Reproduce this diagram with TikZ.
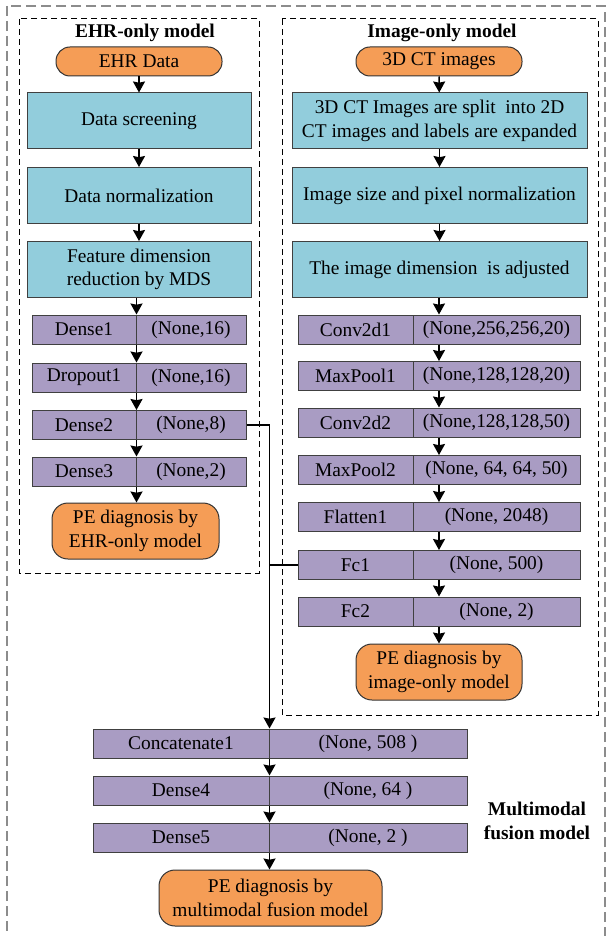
\documentclass[tikz,border=0pt]{standalone}
\usepackage{fontspec}
\setmainfont{Liberation Serif}
\usetikzlibrary{arrows.meta}

\definecolor{pillorange}{HTML}{F59D56}
\definecolor{stepblue}{HTML}{92CDDC}
\definecolor{layerpurple}{HTML}{A99CC3}

\begin{document}
\begin{tikzpicture}[x=0.5pt,y=-0.5pt,
    every node/.style={font=\fontsize{9.7}{11.7}\selectfont, inner sep=0pt},
    title/.style={font=\fontsize{9.7}{11.7}\selectfont\bfseries, align=center},
    pill/.style={draw=black!80, line width=0.5pt, fill=pillorange, rounded corners=7pt, minimum width=83pt, minimum height=14.5pt},
    result/.style={draw=black!80, line width=0.5pt, fill=pillorange, rounded corners=8pt, minimum height=28pt, align=center},
    stepbox/.style={draw=black!75, line width=0.5pt, fill=stepblue, minimum height=28pt, align=center},
    layer/.style={draw=black!75, line width=0.5pt, fill=layerpurple, minimum height=14.5pt},
    arr/.style={-{Stealth[length=5.5pt,width=6pt,inset=0.6pt]}, line width=0.7pt},
    link/.style={line width=0.7pt},
    groupbox/.style={draw=black, line width=0.5pt, dash pattern=on 3pt off 2pt},
    outerbox/.style={draw=black!45, line width=0.7pt, dash pattern=on 5pt off 2.5pt}]

    \useasboundingbox (0,0) rectangle (606,936);
    \begin{scope}
        \clip (0,0) rectangle (606,936);
        \draw[outerbox] (7,6) rectangle (605,960);
    \end{scope}
    \draw[groupbox] (19,19) rectangle (259,573);
    \draw[groupbox] (282,19) rectangle (598,715);

    \node[title] (ehrtitle) at (145,33) {EHR-only model};
    \node[pill] (ehrdata) at (139,61.5) {EHR Data};
    \node[stepbox, minimum width=112pt] (screen) at (139,121) {Data screening};
    \node[stepbox, minimum width=112pt] (norm) at (139,195.5) {Data normalization};
    \node[stepbox, minimum width=112pt] (mds) at (139,269.5) {Feature dimension\\reduction by MDS};

    \node[layer, minimum width=52pt] (dense1) at (84,329.5) {Dense1};
    \node[layer, minimum width=55pt] (dense1o) at (191,329.5) {(None,16)};
    \node[layer, minimum width=52pt] (drop1) at (84,377.5) {Dropout1};
    \node[layer, minimum width=55pt] (drop1o) at (191,377.5) {(None,16)};
    \node[layer, minimum width=52pt] (dense2) at (84,425) {Dense2};
    \node[layer, minimum width=55pt] (dense2o) at (191,425) {(None,8)};
    \node[layer, minimum width=52pt] (dense3) at (84,471.5) {Dense3};
    \node[layer, minimum width=55pt] (dense3o) at (191,471.5) {(None,2)};
    \node[result, minimum width=83.5pt] (ehrpe) at (135.5,531) {PE diagnosis by\\EHR-only model};

    \node[title] (imgtitle) at (442,33) {Image-only model};
    \node[pill] (ctdata) at (439,61.5) {3D CT images};
    \node[stepbox, minimum width=147.5pt] (split) at (439.5,121) {3D CT Images are split~ into 2D\\CT images and labels are expanded};
    \node[stepbox, minimum width=147.5pt] (pixnorm) at (439.5,195.5) {Image size and pixel normalization};
    \node[stepbox, minimum width=147.5pt] (adjust) at (439.5,269.5) {The image dimension~ is adjusted};

    \node[layer, minimum width=57.5pt] (conv1) at (355.5,329.5) {Conv2d1};
    \node[layer, minimum width=83.5pt] (conv1o) at (496.5,329.5) {(None,256,256,20)};
    \node[layer, minimum width=57.5pt] (pool1) at (355.5,376) {MaxPool1};
    \node[layer, minimum width=83.5pt] (pool1o) at (496.5,376) {(None,128,128,20)};
    \node[layer, minimum width=57.5pt] (conv2) at (355.5,422.5) {Conv2d2};
    \node[layer, minimum width=83.5pt] (conv2o) at (496.5,422.5) {(None,128,128,50)};
    \node[layer, minimum width=57.5pt] (pool2) at (355.5,470) {MaxPool2};
    \node[layer, minimum width=83.5pt] (pool2o) at (496.5,470) {(None, 64, 64, 50)};
    \node[layer, minimum width=57.5pt] (flat1) at (355.5,517) {Flatten1};
    \node[layer, minimum width=83.5pt] (flat1o) at (496.5,517) {(None, 2048)};
    \node[layer, minimum width=57.5pt] (fc1) at (355.5,565) {Fc1};
    \node[layer, minimum width=83.5pt] (fc1o) at (496.5,565) {(None, 500)};
    \node[layer, minimum width=57.5pt] (fc2) at (355.5,611.5) {Fc2};
    \node[layer, minimum width=83.5pt] (fc2o) at (496.5,611.5) {(None, 2)};
    \node[result, minimum width=83pt] (imgpe) at (439,672) {PE diagnosis by\\image-only model};

    \node[layer, minimum width=88pt] (concat) at (181,743.5) {Concatenate1};
    \node[layer, minimum width=99pt] (concato) at (368,743.5) {(None, 508 )};
    \node[layer, minimum width=88pt] (dense4) at (181,790.5) {Dense4};
    \node[layer, minimum width=99pt] (dense4o) at (368,790.5) {(None, 64 )};
    \node[layer, minimum width=88pt] (dense5) at (181,837.5) {Dense5};
    \node[layer, minimum width=99pt] (dense5o) at (368,837.5) {(None, 2 )};
    \node[result, minimum width=111.5pt] (fusionpe) at (270.5,898) {PE diagnosis by\\multimodal fusion model};
    \node[title] (fusiontitle) at (537,821) {Multimodal\\fusion model};

    \draw[arr] (ehrdata) -- (screen);
    \draw[arr] (screen) -- (norm);
    \draw[arr] (norm) -- (mds);
    \draw[arr] (mds.south -| dense1.east) -- (dense1.north east);
    \draw[arr] (dense1.south east) -- (drop1.north east);
    \draw[arr] (drop1.south east) -- (dense2.north east);
    \draw[arr] (dense2.south east) -- (dense3.north east);
    \draw[arr] (dense3.south east) -- (dense3.south east |- ehrpe.north);

    \draw[arr] (ctdata) -- (split);
    \draw[arr] (split) -- (pixnorm);
    \draw[arr] (pixnorm) -- (adjust);
    \draw[arr] (adjust.south -| ctdata) -- (conv1o.north -| ctdata);
    \draw[arr] (conv1o.south -| ctdata) -- (pool1o.north -| ctdata);
    \draw[arr] (pool1o.south -| ctdata) -- (conv2o.north -| ctdata);
    \draw[arr] (conv2o.south -| ctdata) -- (pool2o.north -| ctdata);
    \draw[arr] (pool2o.south -| ctdata) -- (flat1o.north -| ctdata);
    \draw[arr] (flat1o.south -| ctdata) -- (fc1o.north -| ctdata);
    \draw[arr] (fc1o.south -| ctdata) -- (fc2o.north -| ctdata);
    \draw[arr] (fc2o.south -| imgpe) -- (imgpe);

    \draw[arr] (dense2o.east) -| (concat.north east);
    \draw[link] (fc1.west) -- (fc1.west -| concat.east);
    \draw[arr] (concat.south east) -- (dense4.north east);
    \draw[arr] (dense4.south east) -- (dense5.north east);
    \draw[arr] (dense5.south east) -- (dense5.south east |- fusionpe.north);
\end{tikzpicture}
\end{document}
